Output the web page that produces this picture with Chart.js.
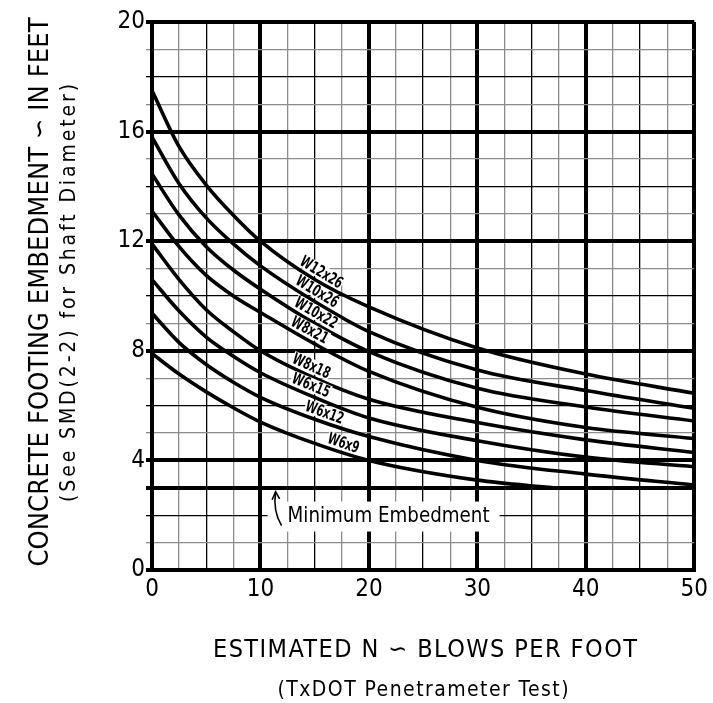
<!DOCTYPE html>
<html>
<head>
<meta charset="utf-8">
<script src="https://cdn.jsdelivr.net/npm/chart.js@4"></script>
<style>
  html, body { margin: 0; padding: 0; background: #fff; }
  #wrap { width: 713px; height: 703px; }
</style>
</head>
<body>
<div id="wrap"><canvas id="embedmentChart" width="713" height="703"></canvas></div>
<script>
const FONT = "'DejaVu Sans Condensed', 'DejaVu Sans', sans-serif";

const blowCounts = [0, 2.5, 5, 7.5, 10, 15, 20, 30, 40, 50];
const blowCountsW6x9 = [0, 2.5, 5, 7.5, 10, 15, 20, 30, 37];

// embedment depth in feet
const w12x26 = [17.5, 15.45, 14.05, 12.95, 12.0, 10.6, 9.6, 8.1, 7.15, 6.45];
const w10x26 = [15.8, 14.1, 12.85, 11.9, 11.1, 9.8, 8.7, 7.3, 6.55, 5.9];
const w10x22 = [14.45, 12.95, 11.8, 10.95, 10.25, 9.0, 7.97, 6.63, 5.95, 5.44];
const w8x21 = [13.1, 11.8, 10.75, 10.0, 9.4, 8.25, 7.25, 5.94, 5.2, 4.8];
const w8x18 = [11.9, 10.6, 9.5, 8.7, 8.0, 7.0, 6.23, 5.38, 4.75, 4.29];
const w6x15 = [10.6, 9.45, 8.5, 7.8, 7.2, 6.3, 5.55, 4.72, 4.12, 3.77];
const w6x12 = [9.37, 8.3, 7.5, 6.85, 6.3, 5.5, 4.87, 4.0, 3.5, 3.1];
const w6x9 = [7.9, 7.15, 6.5, 5.92, 5.4, 4.62, 4.0, 3.28, 3.0];

const sections = ['W12x26', 'W10x26', 'W10x22', 'W8x21', 'W8x18', 'W6x15', 'W6x12', 'W6x9'];
const depths = [w12x26, w10x26, w10x22, w8x21, w8x18, w6x15, w6x12, w6x9];

const minEmbedment = 3;

// x tick labels every 10, y tick labels every 4
const xTickLabels = [0, 10, 20, 30, 40, 50];
const yTickLabels = [0, 4, 8, 12, 16, 20];

// label placement along each curve: shift along the curve, in px
const labelShift = [2, -3, -4, -11, -8, -8, 7, 27];

function toPoints(xs, ys) {
  return ys.map((y, i) => ({ x: xs[i], y: y }));
}

const datasets = sections.map((name, i) => ({
  label: name,
  data: toPoints(name === 'W6x9' ? blowCountsW6x9 : blowCounts, depths[i]),
  borderColor: '#000',
  borderWidth: 3.6,
  pointRadius: 0,
  fill: false,
  cubicInterpolationMode: 'monotone'
}));

// draw text spread or squeezed to a given width
function fitText(ctx, text, cx, cy, width, size, rotate) {
  ctx.save();
  ctx.font = size + 'px ' + FONT;
  ctx.fillStyle = '#000';
  ctx.textAlign = 'left';
  ctx.textBaseline = 'middle';
  ctx.translate(cx, cy);
  if (rotate) ctx.rotate(-Math.PI / 2);
  ctx.letterSpacing = '0px';
  const w = ctx.measureText(text).width;
  const sp = (width - w) / (text.length - 1);
  if (sp >= 0) {
    ctx.letterSpacing = sp + 'px';
  } else {
    ctx.scale(width / w, 1);
    width = w;
  }
  ctx.fillText(text, -width / 2, 0);
  ctx.restore();
}

const decorations = {
  id: 'decorations',
  beforeDraw(chart) {
    const ctx = chart.ctx;
    ctx.save();
    ctx.fillStyle = '#fff';
    ctx.fillRect(0, 0, chart.width, chart.height);
    ctx.restore();
  },
  afterDatasetsDraw(chart) {
    const ctx = chart.ctx;
    const xs = chart.scales.x, ys = chart.scales.y;

    // section labels sitting on the curves
    ctx.save();
    ctx.font = 'bold 16px ' + FONT;
    ctx.textAlign = 'center';
    ctx.textBaseline = 'middle';
    const squeeze = 47 / ctx.measureText('W12x26').width;
    sections.forEach((name, i) => {
      const pts = chart.getDatasetMeta(i).data;
      const p = pts[5], a = pts[4], b = pts[6];
      const ang = Math.atan2(b.y - a.y, b.x - a.x);
      const s = labelShift[i], off = 10;
      const cx = p.x + s * Math.cos(ang) + off * Math.sin(ang);
      const cy = p.y + s * Math.sin(ang) - off * Math.cos(ang);
      ctx.save();
      ctx.translate(cx, cy);
      ctx.rotate(ang);
      ctx.scale(squeeze, 1);
      const w = ctx.measureText(name).width;
      ctx.fillStyle = '#fff';
      ctx.fillRect(-w / 2 - 1, -7, w + 2, 14);
      ctx.fillStyle = '#000';
      ctx.fillText(name, 0, 1);
      ctx.restore();
    });
    ctx.restore();

    // minimum embedment note
    const left = xs.getPixelForValue(12.5);
    const mid = ys.getPixelForValue(1.95);
    ctx.save();
    ctx.fillStyle = '#fff';
    ctx.fillRect(left - 20, mid - 15, 232, 30);
    ctx.restore();
    fitText(ctx, 'Minimum Embedment', left + 101, mid, 202, 22, false);

    const tipX = xs.getPixelForValue(11.4);
    const tipY = ys.getPixelForValue(minEmbedment) + 4;
    ctx.save();
    ctx.strokeStyle = '#000';
    ctx.lineWidth = 1.6;
    ctx.beginPath();
    ctx.moveTo(left - 6, mid + 9);
    ctx.quadraticCurveTo(tipX - 3, mid - 6, tipX, tipY);
    ctx.stroke();
    ctx.beginPath();
    ctx.moveTo(tipX - 3.5, tipY + 8);
    ctx.lineTo(tipX, tipY);
    ctx.lineTo(tipX + 4, tipY + 7);
    ctx.stroke();
    ctx.restore();

    // axis titles
    fitText(ctx, 'ESTIMATED N \u223D BLOWS PER FOOT', 425, 650, 424, 25, false);
    fitText(ctx, '(TxDOT Penetrameter Test)', 423, 691, 291, 21, false);
    fitText(ctx, 'CONCRETE FOOTING EMBEDMENT \u223D IN FEET', 41, 292, 549, 27, true);
    fitText(ctx, '(See SMD(2-2) for Shaft Diameter)', 70, 293, 418, 21, true);
  }
};

new Chart(document.getElementById('embedmentChart'), {
  type: 'line',
  data: { datasets: datasets },
  options: {
    responsive: false,
    animation: false,
    layout: { padding: { top: 22, right: 15, left: 0, bottom: 0 } },
    plugins: {
      legend: { display: false },
      tooltip: { enabled: false }
    },
    scales: {
      x: {
        type: 'linear',
        min: 0,
        max: 50,
        afterFit: (s) => { s.height = 133; },
        border: { display: true, width: 4, color: '#000' },
        grid: {
          drawTicks: false,
          color: (c) => (c.tick && c.tick.value % 5 === 0) ? '#000' : '#8c8c8c',
          lineWidth: (c) => (c.tick && c.tick.value % 10 === 0) ? 4 : 1.3
        },
        ticks: {
          stepSize: 2.5,
          autoSkip: false,
          maxRotation: 0,
          padding: 5,
          color: '#000',
          font: { family: FONT, size: 24 },
          callback: (v) => xTickLabels.includes(v) ? String(v) : ''
        }
      },
      y: {
        min: 0,
        max: 20,
        afterFit: (s) => { s.width = 152; },
        border: { display: true, width: 4, color: '#000' },
        grid: {
          tickLength: 6,
          color: (c) => {
            const v = c.tick ? c.tick.value : 0;
            return (v % 2 === 0 || v === minEmbedment) ? '#000' : '#8c8c8c';
          },
          lineWidth: (c) => {
            const v = c.tick ? c.tick.value : 0;
            return (v % 4 === 0 || v === minEmbedment) ? 4 : 1.3;
          }
        },
        ticks: {
          stepSize: 1,
          autoSkip: false,
          padding: 1,
          color: '#000',
          font: { family: FONT, size: 24 },
          callback: (v) => yTickLabels.includes(v) ? String(v) : ''
        }
      }
    }
  },
  plugins: [decorations]
});
</script>
</body>
</html>
